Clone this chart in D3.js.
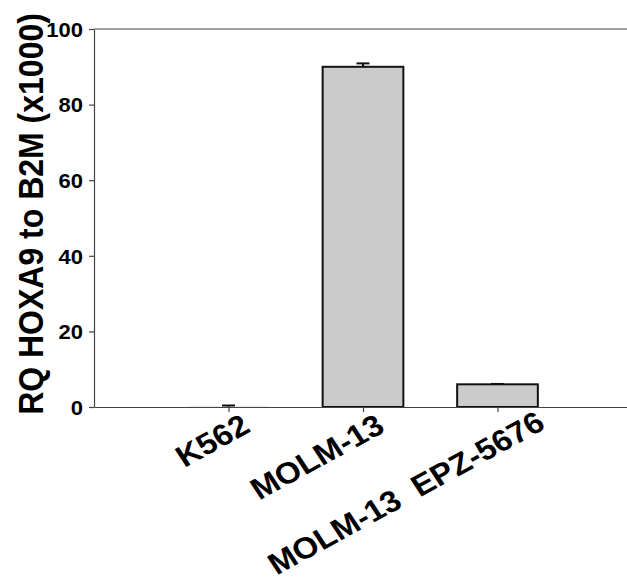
<!DOCTYPE html>
<html>
<head>
<meta charset="utf-8">
<script src="https://cdn.jsdelivr.net/npm/d3@7"></script>
<style>
  html, body { margin: 0; padding: 0; background: #fff; }
  svg { display: block; }
</style>
</head>
<body>
<div id="chart"></div>
<script>
// data (RQ x1000)
const categories = ['K562', 'MOLM-13', 'MOLM-13  EPZ-5676'];
const means = [0.1, 90.0, 6.0];
const errors = [0.3, 0.9, 0.1];
const yTicks = [0, 20, 40, 60, 80, 100];
const yTitle = 'RQ HOXA9 to B2M (x1000)';

const width = 627;
const height = 580;
const fontFamily = '"Liberation Sans", Arial, Helvetica, sans-serif';
// the original figure is a bit stretched horizontally, text follows that
const stretch = 1.1;

const svg = d3.select('#chart').append('svg')
    .attr('width', width)
    .attr('height', height);

const plot = { left: 94, top: 29, bottom: 407, right: 632 };

const x = d3.scalePoint()
    .domain(categories)
    .range([plot.left, plot.right])
    .padding(1);

const y = d3.scaleLinear()
    .domain([0, 100])
    .range([plot.bottom, plot.top]);

const barWidth = x.step() * 0.6;
const rows = categories.map((c, i) => ({ name: c, mean: means[i], err: errors[i] }));

// bars
svg.append('g')
    .selectAll('rect')
    .data(rows)
    .enter().append('rect')
    .attr('x', d => x(d.name) - barWidth / 2)
    .attr('y', d => y(d.mean))
    .attr('width', barWidth)
    .attr('height', d => y(0) - y(d.mean))
    .attr('fill', '#cbcbcb')
    .attr('stroke', d => (y(0) - y(d.mean)) < 1 ? 'none' : '#111')
    .attr('stroke-width', 2);

// error bars (upper only)
const errG = svg.append('g')
    .attr('stroke', '#111')
    .attr('stroke-width', 2);

errG.selectAll('line.stem')
    .data(rows)
    .enter().append('line')
    .attr('class', 'stem')
    .attr('x1', d => x(d.name))
    .attr('x2', d => x(d.name))
    .attr('y1', d => y(d.mean))
    .attr('y2', d => y(d.mean + d.err));

errG.selectAll('line.cap')
    .data(rows)
    .enter().append('line')
    .attr('class', 'cap')
    .attr('x1', d => x(d.name) - 6.5)
    .attr('x2', d => x(d.name) + 6.5)
    .attr('y1', d => y(d.mean + d.err))
    .attr('y2', d => y(d.mean + d.err));

// top frame line
svg.append('line')
    .attr('x1', plot.left)
    .attr('x2', plot.right)
    .attr('y1', y(100))
    .attr('y2', y(100))
    .attr('stroke', '#444')
    .attr('stroke-width', 1.2);

// y axis
const yAxis = svg.append('g')
    .attr('transform', `translate(${plot.left},0)`)
    .call(d3.axisLeft(y).tickValues(yTicks).tickSize(5).tickSizeOuter(0));

yAxis.select('.domain').attr('stroke', '#444').attr('stroke-width', 1.2);
yAxis.selectAll('.tick line').attr('stroke', '#444').attr('stroke-width', 1.2);
yAxis.selectAll('.tick text')
    .attr('x', -11 / stretch)
    .attr('dy', '0.36em')
    .attr('transform', `scale(${stretch},1)`)
    .style('font-family', fontFamily)
    .style('font-size', '20px')
    .style('font-weight', 'bold')
    .attr('fill', '#000');

// x axis
const labelShift = [[23, 24], [23, 24], [49, 21]];

const xAxis = svg.append('g')
    .attr('transform', `translate(0,${plot.bottom})`)
    .call(d3.axisBottom(x).tickSize(5).tickSizeOuter(0));

xAxis.select('.domain').attr('stroke', '#444').attr('stroke-width', 1.2);
xAxis.selectAll('.tick line').attr('stroke', '#444').attr('stroke-width', 1.2);
xAxis.selectAll('.tick text')
    .attr('x', null)
    .attr('y', 0)
    .attr('dy', 0)
    .attr('text-anchor', 'end')
    .attr('xml:space', 'preserve')
    .attr('transform', (d, i) => `translate(${labelShift[i][0]},${labelShift[i][1]}) scale(${stretch},1) rotate(-31)`)
    .style('white-space', 'pre')
    .style('font-family', fontFamily)
    .style('font-size', '30px')
    .style('font-weight', 'bold')
    .attr('fill', '#000');

// y title
svg.append('text')
    .attr('transform', `translate(43,214) scale(${stretch},1) rotate(-90)`)
    .attr('text-anchor', 'middle')
    .style('font-family', fontFamily)
    .style('font-size', '32px')
    .style('font-weight', 'bold')
    .attr('fill', '#000')
    .text(yTitle);
</script>
</body>
</html>
